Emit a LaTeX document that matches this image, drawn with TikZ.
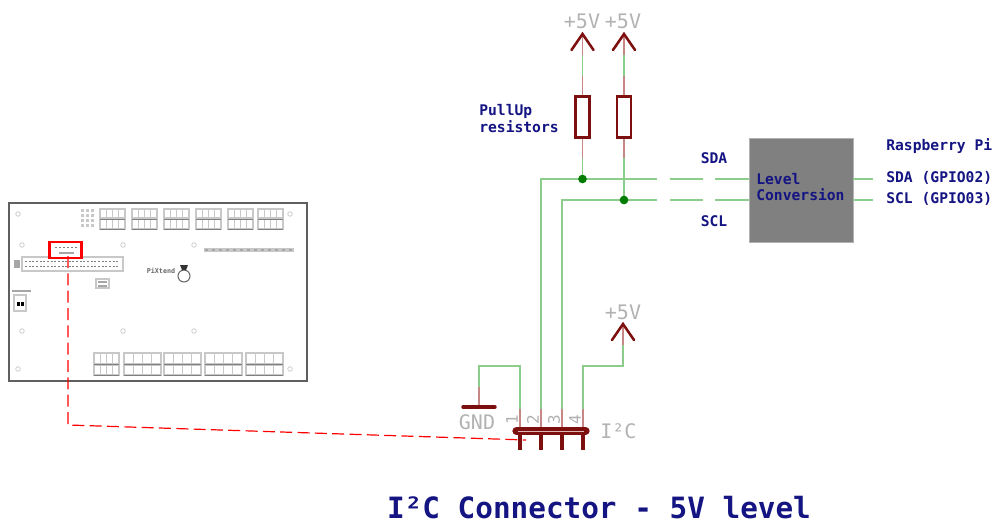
\documentclass[tikz,border=0pt]{standalone}
\usepackage{fontspec}
\usetikzlibrary{calc}
\setmainfont{DejaVu Sans Mono}
\definecolor{wiregreen}{RGB}{140,205,140}
\definecolor{pinred}{RGB}{200,135,135}
\definecolor{dkred}{RGB}{125,15,15}
\definecolor{dotgreen}{RGB}{0,125,0}
\definecolor{txtblue}{RGB}{20,20,130}
\definecolor{txtgray}{RGB}{178,178,178}
\definecolor{boxgray}{RGB}{128,128,128}
\definecolor{boardline}{RGB}{95,95,95}
\definecolor{blockgray}{RGB}{200,200,200}
\tikzset{
 x=0.75pt,y=-0.75pt,
 wire/.style={draw=wiregreen,line width=1.3pt},
 stub/.style={draw=pinred,line width=1.3pt},
 supply/.style={draw=dkred,line width=1.9pt},
 junction/.style={circle,fill=dotgreen,inner sep=0pt,minimum size=6.5pt},
 res/.style={draw=dkred,line width=1.8pt,fill=white,minimum width=10.5pt,minimum height=31pt,inner sep=0pt},
 lab/.style={text=txtblue,font=\bfseries\fontsize{11}{12.5}\selectfont,inner sep=0pt,align=left},
 graylab/.style={text=txtgray,font=\fontsize{15}{16}\selectfont,inner sep=0pt},
 pinnum/.style={text=txtgray,font=\fontsize{12}{13}\selectfont,inner sep=0pt,rotate=90},
 block/.style={fill=blockgray,draw=none},
 hole/.style={draw=blockgray,fill=white,line width=0.5pt,circle,inner sep=0pt,minimum size=3.4pt},
 reddash/.style={draw=red,line width=0.9pt,dash pattern=on 9pt off 4pt},
}
\newcommand{\termblock}[4]{% x,y,w,h
  \fill[block] (#1,#2) rectangle ++(#3,#4);
  \foreach \k in {0,1,2,3}{\fill[white] ({#1+1.5+\k*(#3-2)/4},{#2+2}) rectangle ++({(#3-2)/4-1.2},{#4/2-3.5});
  \fill[white] ({#1+1.5+\k*(#3-2)/4},{#2+#4/2+1.5}) rectangle ++({(#3-2)/4-1.2},{#4/2-3.5});}
  \draw[gray,line width=0.5pt] (#1+1,{#2+#4/2}) -- ++({#3-2},0);
  \draw[gray,line width=0.5pt] (#1+1,{#2+#4-1}) -- ++({#3-2},0);
}
\begin{document}
\begin{tikzpicture}
\useasboundingbox (0,0) rectangle (996,524);
% board
\draw[draw=boardline,line width=1.1pt,fill=white] (9,203) rectangle (307,381);
\foreach \xx/\yy in {18/214, 22/245, 123/245, 194/245, 22/331, 123/331, 194/331, 18/369, 290/214, 290/369}
  \node[hole] at (\xx,\yy) {};
\termblock{99}{208}{27}{22}
\termblock{131}{208}{27}{22}
\termblock{163}{208}{27}{22}
\termblock{195}{208}{27}{22}
\termblock{227}{208}{27}{22}
\termblock{257}{208}{27}{22}
\foreach \a in {0,1,2,3}{\fill[blockgray] (81,{209+\a*5}) rectangle ++(3,3);\fill[blockgray] (86,{209+\a*5}) rectangle ++(3,3);\fill[blockgray] (91,{209+\a*5}) rectangle ++(3,3);}
\termblock{93}{352}{27}{24}
\termblock{123}{352}{39}{24}
\termblock{163}{352}{39}{24}
\termblock{204}{352}{39}{24}
\termblock{245}{352}{39}{24}
\fill[block] (204,248) rectangle (294,252);
\foreach \k in {0,...,12}{\fill[gray!70] (205+\k*7,249) rectangle ++(3,2);}
% header
\draw[draw=blockgray,line width=1.6pt,fill=white] (22,257) rectangle (123,271);
\foreach \k in {0,...,25}{\fill[gray] (25+\k*3.65,261) rectangle ++(2,1.4);\fill[gray] (25+\k*3.65,265.5) rectangle ++(2,1.4);}
\fill[gray!70] (14,260) rectangle (20,268);
% sticker on board
\draw[blockgray,line width=0.8pt,fill=white] (96,279) rectangle (109,288);
\fill[gray!70] (98,281) rectangle ++(9,1.5);\fill[gray!70] (98,285) rectangle ++(9,1.5);
\fill[gray!70] (12,290) rectangle (31,291.5);
\draw[blockgray,line width=0.8pt,fill=white] (14,295) rectangle (26,311);
\fill[black] (17,302) rectangle ++(2.5,4);\fill[black] (21,302) rectangle ++(2.5,4);
\node[inner sep=0pt,text=gray!80!black,font=\bfseries\fontsize{5}{6}\selectfont] (brand) at (161,271) {PiXtend};
\draw[gray!80!black,line width=0.8pt] (184,276) circle (6);
\fill[gray!40!black] (180,265) -- (188,265) -- (186,270) -- (182,270) -- cycle;
\node[draw=red,line width=2.2pt,minimum width=24pt,minimum height=12pt,inner sep=0pt,fill=white] (sel) at (65.5,250) {};
\foreach \k in {0,...,5}{\fill[gray] (55+\k*4,246.5) rectangle ++(2,1.5);}
\fill[gray!70] (59,252) rectangle (74,253.5);
% dashed link
\coordinate (lk) at (68,425);
\coordinate (lkend) at (526,440);
\draw[reddash] (68,256) -- (lk) -- (lkend);

% connector
\coordinate (p1) at (520,431);
\coordinate (p2) at (541,431);
\coordinate (p3) at (562,431);
\coordinate (p4) at (583,431);
\coordinate (gndc) at (479,407);
\coordinate (s3) at (623,324);
\coordinate (s1) at (582.5,34);
\coordinate (s2) at (624,34);
% wires
\node[res] (r1) at (582.5,117) {};
\node[res] (r2) at (624,117) {};
\node[fill=boxgray,draw=gray!60,line width=0.4pt,minimum width=78pt,minimum height=78pt,inner sep=0pt] (lvl) at (801,190) {};
\coordinate (gpa) at (873,179);
\coordinate (gpb) at (873,200);
\coordinate (d1a) at (670,179);\coordinate (d1b) at (703,179);\coordinate (d2a) at (715,179);
\coordinate (e1a) at (670,200);\coordinate (e1b) at (703,200);\coordinate (e2a) at (715,200);
\coordinate (ga) at (657,179);\coordinate (gb) at (657,200);

\draw[wire] (541,410) |- (ga);
\draw[wire] (d1a) -- (d1b);
\draw[wire] (d2a) -- (lvl.west |- d2a);
\draw[wire] (562,410) |- (gb);
\draw[wire] (e1a) -- (e1b);
\draw[wire] (e2a) -- (lvl.west |- e2a);
\draw[wire] (lvl.east |- gpa) -- (gpa);
\draw[wire] (lvl.east |- gpb) -- (gpb);
\draw[wire] (520,410) -- (520,366) -- (479,366) -- (479,387);
\draw[wire] (583,410) -- (583,366) -- (623,366) -- (623,345);
\draw[wire] (582.5,158) -- (582.5,179);
\draw[wire] (624,158) -- (624,200);
\draw[wire] (582.5,55) -- (582.5,76);
\draw[wire] (624,55) -- (624,76);
\node[junction] (j1) at (582.5,179) {};
\node[junction] (j2) at (624,200) {};
% red stubs
\draw[stub] (479,387) -- (gndc);
\draw[stub] (623,345) -- (s3);
\draw[stub] (s1) -- (582.5,55) (582.5,76) -- (r1.north) (r1.south) -- (582.5,158);
\draw[stub] (s2) -- (624,55) (624,76) -- (r2.north) (r2.south) -- (624,158);
\foreach \p/\xx in {p1/520,p2/541,p3/562,p4/583}{\draw[stub] (\p) -- (\xx,409);}
% arrows
\foreach \a in {s1,s2,s3}{\draw[supply,line cap=round] ($(\a)+(-11,16)$) -- (\a) -- ($(\a)+(11,16)$);}
% gnd
\draw[draw=dkred,line width=2.6pt,line cap=round] (463,407) -- (495,407);
% connector body
\foreach \p in {p1,p2,p3,p4}{\draw[draw=dkred,line width=3.2pt] (\p) -- ($(\p)+(0,19)$);}
\draw[draw=dkred,line width=6.2pt,line cap=round] (516.5,431) -- (585.5,431);
\draw[draw=pinred!60!white,line width=0.6pt] (518,431) -- (584,431);
% texts
\node[graylab,anchor=center] (v1) at (582,21) {+5V};
\node[graylab,anchor=center] (v2) at (623,21) {+5V};
\node[graylab,anchor=center] (v3) at (623,312) {+5V};
\node[graylab,anchor=center] (gndt) at (477,422) {GND};
\node[graylab,anchor=west] (i2c) at (600,431) {I²C};
\node[pinnum] (n1) at (512,420) {1};
\node[pinnum] (n2) at (533,420) {2};
\node[pinnum] (n3) at (554,420) {3};
\node[pinnum] (n4) at (575,420) {4};
\node[lab,anchor=north west] (pu) at (479,104) {PullUp\\resistors};
\node[lab,anchor=center] (sda) at (714,158) {SDA};
\node[lab,anchor=center] (scl) at (714,221) {SCL};
\node[lab,anchor=west] (lc1) at (756,179) {Level};
\node[lab,anchor=west] (lc2) at (756,195) {Conversion};
\node[lab,anchor=west] (rp) at (886,146) {Raspberry Pi};
\node[lab,anchor=west] (g2) at (886,178) {SDA (GPIO02)};
\node[lab,anchor=west] (g3) at (886,199) {SCL (GPIO03)};
\node[text=txtblue,font=\bfseries\fontsize{22}{24}\selectfont,inner sep=0pt,anchor=base] (title) at (599,518) {I²C Connector - 5V level};
\end{tikzpicture}
\end{document}
